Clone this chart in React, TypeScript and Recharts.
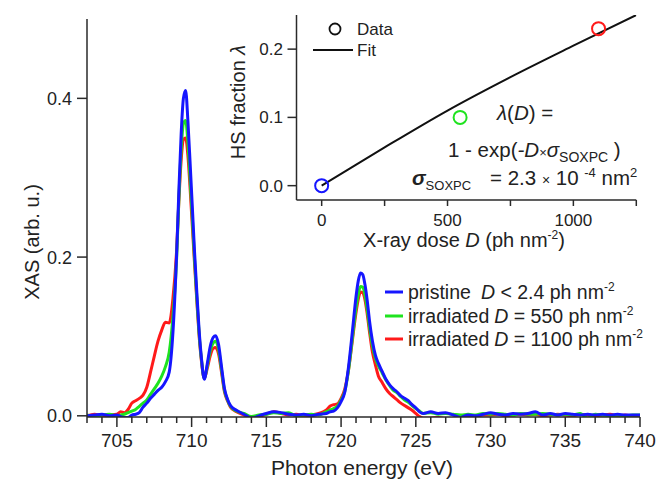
import React from "react";
import { LineChart, ComposedChart, Line, Scatter, XAxis, YAxis } from "recharts";

// photon energy (eV) and XAS intensities
const energy = [
  703, 703.5, 704, 704.5, 705, 705.25, 705.5, 705.75, 706, 706.25, 706.5, 706.75, 707, 707.25, 707.5, 707.75, 708, 708.25, 708.5, 708.75,
  709, 709.15, 709.3, 709.45, 709.6, 709.75, 709.9, 710.05, 710.2, 710.35, 710.5, 710.65, 710.85, 711.05, 711.25, 711.45, 711.6, 711.8, 712, 712.2, 712.4, 712.6, 713,
  713.5, 714, 714.5, 715, 715.5, 716, 716.5, 717, 717.5, 718, 718.5, 719,
  719.25, 719.5, 719.75, 720, 720.25, 720.5, 720.75, 721, 721.15, 721.3, 721.45, 721.6, 721.75, 721.9, 722.1, 722.3, 722.5, 722.75, 723, 723.25, 723.5, 723.75, 724, 724.25, 724.5, 724.75, 725, 725.25, 725.5,
  726, 726.5, 727, 727.5, 728, 728.5, 729, 729.5, 730, 730.5, 731, 731.5, 732, 732.5, 733, 733.5, 734, 734.5, 735, 735.5, 736, 736.5, 737, 737.5, 738, 738.5, 739, 739.5, 740,
];

const pristine = [
  0.000, 0.001, 0.002, 0.000, 0.001, -0.001, -0.002, -0.002, 0.001, 0.002, 0.004, 0.011, 0.016, 0.022, 0.027, 0.032, 0.036, 0.043, 0.055, 0.105,
  0.205, 0.285, 0.355, 0.400, 0.410, 0.372, 0.318, 0.262, 0.205, 0.155, 0.108, 0.074, 0.046, 0.066, 0.088, 0.099, 0.101, 0.090, 0.062, 0.034, 0.021, 0.013, 0.007,
  0.002, -0.003, 0.000, 0.003, 0.005, 0.004, 0.002, 0.001, 0.002, 0.000, 0.002, 0.003,
  0.005, 0.006, 0.010, 0.018, 0.030, 0.062, 0.105, 0.150, 0.170, 0.180, 0.178, 0.165, 0.145, 0.120, 0.094, 0.076, 0.066, 0.056, 0.046, 0.039, 0.034, 0.030, 0.025, 0.022, 0.019, 0.014, 0.010, 0.005, 0.003,
  0.005, 0.003, 0.004, 0.001, -0.002, 0.001, 0.000, 0.002, 0.004, 0.002, 0.001, 0.003, 0.002, 0.003, 0.005, 0.001, 0.003, 0.001, 0.003, 0.002, 0.001, 0.002, 0.001, 0.002, 0.001, 0.002, 0.001, 0.001, 0.001,
];

const dose550 = [
  0.001, -0.001, 0.001, 0.002, 0.000, 0.001, 0.002, 0.004, 0.006, 0.008, 0.012, 0.016, 0.020, 0.027, 0.034, 0.041, 0.050, 0.062, 0.080, 0.125,
  0.200, 0.275, 0.335, 0.368, 0.372, 0.345, 0.298, 0.248, 0.196, 0.148, 0.104, 0.072, 0.047, 0.063, 0.082, 0.092, 0.094, 0.084, 0.058, 0.032, 0.020, 0.012, 0.006,
  0.003, -0.001, 0.001, 0.002, 0.004, 0.003, 0.004, 0.000, 0.001, 0.002, 0.001, 0.005,
  0.007, 0.009, 0.012, 0.020, 0.031, 0.058, 0.097, 0.136, 0.153, 0.163, 0.162, 0.152, 0.134, 0.112, 0.088, 0.072, 0.063, 0.054, 0.045, 0.038, 0.032, 0.029, 0.024, 0.020, 0.017, 0.013, 0.009, 0.006, 0.003,
  0.004, 0.002, 0.003, 0.002, 0.001, 0.002, 0.001, 0.003, 0.002, 0.003, 0.002, 0.001, 0.003, 0.002, 0.002, 0.003, 0.002, 0.001, 0.002, 0.001, 0.003, -0.003, 0.002, 0.001, 0.000, 0.001, 0.000, 0.001, 0.001,
];

const dose1100 = [
  0.000, 0.002, 0.000, 0.001, 0.002, 0.005, 0.004, 0.008, 0.016, 0.019, 0.022, 0.026, 0.036, 0.055, 0.075, 0.094, 0.108, 0.118, 0.117, 0.148,
  0.210, 0.272, 0.322, 0.348, 0.350, 0.328, 0.286, 0.238, 0.190, 0.144, 0.101, 0.070, 0.047, 0.060, 0.076, 0.085, 0.086, 0.078, 0.055, 0.030, 0.019, 0.011, 0.005,
  0.001, -0.002, -0.001, 0.002, 0.005, 0.003, 0.001, 0.002, 0.000, 0.001, 0.003, 0.007,
  0.012, 0.014, 0.015, 0.022, 0.034, 0.058, 0.094, 0.130, 0.147, 0.156, 0.155, 0.146, 0.128, 0.106, 0.080, 0.064, 0.050, 0.042, 0.034, 0.028, 0.024, 0.020, 0.016, 0.013, 0.010, 0.007, 0.003, -0.001, -0.003,
  -0.003, -0.002, -0.004, -0.005, -0.004, -0.002, -0.001, 0.001, 0.001, 0.002, 0.000, 0.001, 0.002, 0.001, 0.002, 0.000, 0.001, 0.002, 0.001, 0.000, 0.002, 0.001, 0.000, 0.001, 0.002, 0.000, 0.001, 0.000, 0.000,
];

const energyTicks = Array.from({ length: 38 }, (_, i) => 703 + i);
const xasTicks = [0, 0.2, 0.4];

// inset: HS fraction vs dose
const doseValues = [0, 550, 1100];
const hsFraction = [0, 0.1, 0.23];
const fitDose = [0, 250, 500, 750, 1000, 1250];
const fitFraction = [0, 0.056, 0.11, 0.159, 0.205, 0.25];
const doseTicks = [0, 250, 500, 750, 1000, 1250];
const fractionTicks = [0, 0.1, 0.2];

const BLUE = "#1616ff";
const GREEN = "#1fe31f";
const RED = "#ff1a1a";
const pointColors = [BLUE, GREEN, RED];
const AXIS = "#2a2a2a";
const TEXT = "#222";
const FONT = '"Liberation Sans", Arial, Helvetica, sans-serif';

const rows = energy.map((e, i) => ({ e, blue: pristine[i], green: dose550[i], red: dose1100[i] }));
const points = doseValues.map((d, i) => ({ d, f: hsFraction[i] }));
const fitRows = fitDose.map((d, i) => ({ d, f: fitFraction[i] }));

function MainXTick({ x, y, payload }: any) {
  const major = payload.value % 5 === 0;
  return (
    <g>
      <line x1={x} x2={x} y1={y} y2={y + (major ? 10 : 6)} stroke={AXIS} strokeWidth={1.5} />
      {major && (
        <text x={x} y={y + 30} textAnchor="middle" fontSize={19} fill={TEXT} fontFamily={FONT}>
          {payload.value}
        </text>
      )}
    </g>
  );
}

function MainYTick({ x, y, payload }: any) {
  return (
    <g>
      <line x1={x - 10} x2={x} y1={y} y2={y} stroke={AXIS} strokeWidth={1.5} />
      <text x={x - 15} y={y + 6.5} textAnchor="end" fontSize={18} fill={TEXT} fontFamily={FONT}>
        {payload.value.toFixed(1)}
      </text>
    </g>
  );
}

function InsetXTick({ x, y, payload }: any) {
  const labelled = payload.value % 500 === 0;
  return (
    <g>
      <line x1={x} x2={x} y1={y} y2={y + 6} stroke={AXIS} strokeWidth={1.5} />
      {labelled && (
        <text x={x} y={y + 26} textAnchor="middle" fontSize={17} fill={TEXT} fontFamily={FONT}>
          {payload.value}
        </text>
      )}
    </g>
  );
}

function InsetYTick({ x, y, payload }: any) {
  return (
    <g>
      <line x1={x - 9} x2={x} y1={y} y2={y} stroke={AXIS} strokeWidth={1.5} />
      <text x={x - 13.5} y={y + 6} textAnchor="end" fontSize={17} fill={TEXT} fontFamily={FONT}>
        {payload.value.toFixed(1)}
      </text>
    </g>
  );
}

const ringShape = (props: any) => (
  <circle cx={props.cx} cy={props.cy} r={6.5} fill="none" stroke={pointColors[props.index]} strokeWidth={2} />
);

const legendRows = [
  { color: BLUE, y: 292, pre: "pristine", gap: 10, rel: " < 2.4 ph nm" },
  { color: GREEN, y: 316, pre: "irradiated", gap: 5, rel: " = 550 ph nm" },
  { color: RED, y: 339, pre: "irradiated", gap: 5, rel: " = 1100 ph nm" },
];

export default function App() {
  const axisLine = { stroke: AXIS, strokeWidth: 1.5 };
  return (
    <div style={{ position: "absolute", left: 0, top: 0, width: 657, height: 479, background: "#fff", fontFamily: FONT }}>
      <div style={{ position: "absolute", left: 0, top: 0 }}>
        <LineChart width={657} height={479} data={rows} margin={{ top: 19, right: 17, bottom: 0, left: 0 }}>
          <XAxis
            type="number"
            dataKey="e"
            domain={[703, 740]}
            ticks={energyTicks}
            interval={0}
            height={62}
            tickSize={0}
            tickMargin={0}
            tickLine={false}
            tick={<MainXTick />}
            axisLine={axisLine}
            allowDataOverflow
          />
          <YAxis
            type="number"
            domain={[-0.0015, 0.5]}
            ticks={xasTicks}
            interval={0}
            width={87}
            tickSize={0}
            tickMargin={0}
            tickLine={false}
            tick={<MainYTick />}
            axisLine={axisLine}
            allowDataOverflow
          />
          <Line type="monotone" dataKey="red" stroke={RED} strokeWidth={3} dot={false} isAnimationActive={false} />
          <Line type="monotone" dataKey="green" stroke={GREEN} strokeWidth={3} dot={false} isAnimationActive={false} />
          <Line type="monotone" dataKey="blue" stroke={BLUE} strokeWidth={3} dot={false} isAnimationActive={false} />
        </LineChart>
      </div>

      <div style={{ position: "absolute", left: 200, top: 0 }}>
        <ComposedChart width={457} height={270} margin={{ top: 15, right: 20.7, bottom: 0, left: 0 }}>
          <XAxis
            type="number"
            dataKey="d"
            domain={[-100, 1250]}
            ticks={doseTicks}
            interval={0}
            height={70}
            tickSize={0}
            tickMargin={0}
            tickLine={false}
            tick={<InsetXTick />}
            axisLine={axisLine}
            allowDataOverflow
          />
          <YAxis
            type="number"
            dataKey="f"
            domain={[-0.021, 0.25]}
            ticks={fractionTicks}
            interval={0}
            width={96.5}
            tickSize={0}
            tickMargin={0}
            tickLine={false}
            tick={<InsetYTick />}
            axisLine={axisLine}
            allowDataOverflow
          />
          <Line data={fitRows} type="monotone" dataKey="f" stroke="#111" strokeWidth={2} dot={false} isAnimationActive={false} />
          <Scatter data={points} dataKey="f" shape={ringShape} isAnimationActive={false} />
        </ComposedChart>
      </div>

      <svg width={657} height={479} style={{ position: "absolute", left: 0, top: 0, pointerEvents: "none" }} fontFamily={FONT} fill={TEXT}>
        {/* main axis titles */}
        <text transform="translate(32,242) rotate(-90)" textAnchor="middle" dominantBaseline="central" fontSize={20}>
          XAS (arb. u.)
        </text>
        <text x={362} y={475} textAnchor="middle" fontSize={21}>
          Photon energy (eV)
        </text>

        {/* main legend */}
        {legendRows.map((r, i) => (
          <g key={i}>
            <line x1={385} x2={403} y1={r.y} y2={r.y} stroke={r.color} strokeWidth={3} />
            <text x={408} y={r.y + 7} fontSize={19.5}>
              {r.pre}
              <tspan dx={r.gap} fontStyle="italic">D</tspan>
              <tspan>{r.rel}</tspan>
              <tspan dy={-8} fontSize={12}>-2</tspan>
            </text>
          </g>
        ))}

        {/* inset legend */}
        <circle cx={335} cy={29} r={5.5} fill="none" stroke="#111" strokeWidth={1.8} />
        <text x={357} y={35} fontSize={17}>Data</text>
        <line x1={313} x2={353} y1={50} y2={50} stroke="#111" strokeWidth={2} />
        <text x={357} y={56} fontSize={17}>Fit</text>

        {/* inset axis titles */}
        <text transform="translate(238,102) rotate(-90)" textAnchor="middle" dominantBaseline="central" fontSize={20}>
          HS fraction <tspan fontStyle="italic">λ</tspan>
        </text>
        <text x={464} y={247} textAnchor="middle" fontSize={20}>
          X-ray dose <tspan fontStyle="italic">D</tspan> (ph nm<tspan dy={-8} fontSize={12}>-2</tspan>
          <tspan dy={8}>)</tspan>
        </text>

        {/* fit formula */}
        <text x={497} y={120} fontSize={20.5}>
          <tspan fontStyle="italic">λ</tspan>(<tspan fontStyle="italic">D</tspan>) =
        </text>
        <text x={448} y={157} fontSize={20.5}>
          1 - exp(<tspan fontStyle="italic">-D</tspan>
          <tspan fontSize={13}>×</tspan>
          <tspan fontStyle="italic">σ</tspan>
          <tspan dy={5} fontSize={14}>SOXPC</tspan>
          <tspan dy={-5}> )</tspan>
        </text>
        <text x={412} y={185} fontSize={20.5}>
          <tspan fontStyle="italic" fontWeight="bold">σ</tspan>
          <tspan dy={5} fontSize={13}>SOXPC</tspan>
        </text>
        <text x={490} y={185} fontSize={20.5}>
          = 2.3 <tspan fontSize={14}>×</tspan> 10 <tspan dy={-8} fontSize={13}>-4</tspan>
          <tspan dy={8}> nm</tspan>
          <tspan dy={-8} fontSize={13}>2</tspan>
        </text>
      </svg>
    </div>
  );
}
